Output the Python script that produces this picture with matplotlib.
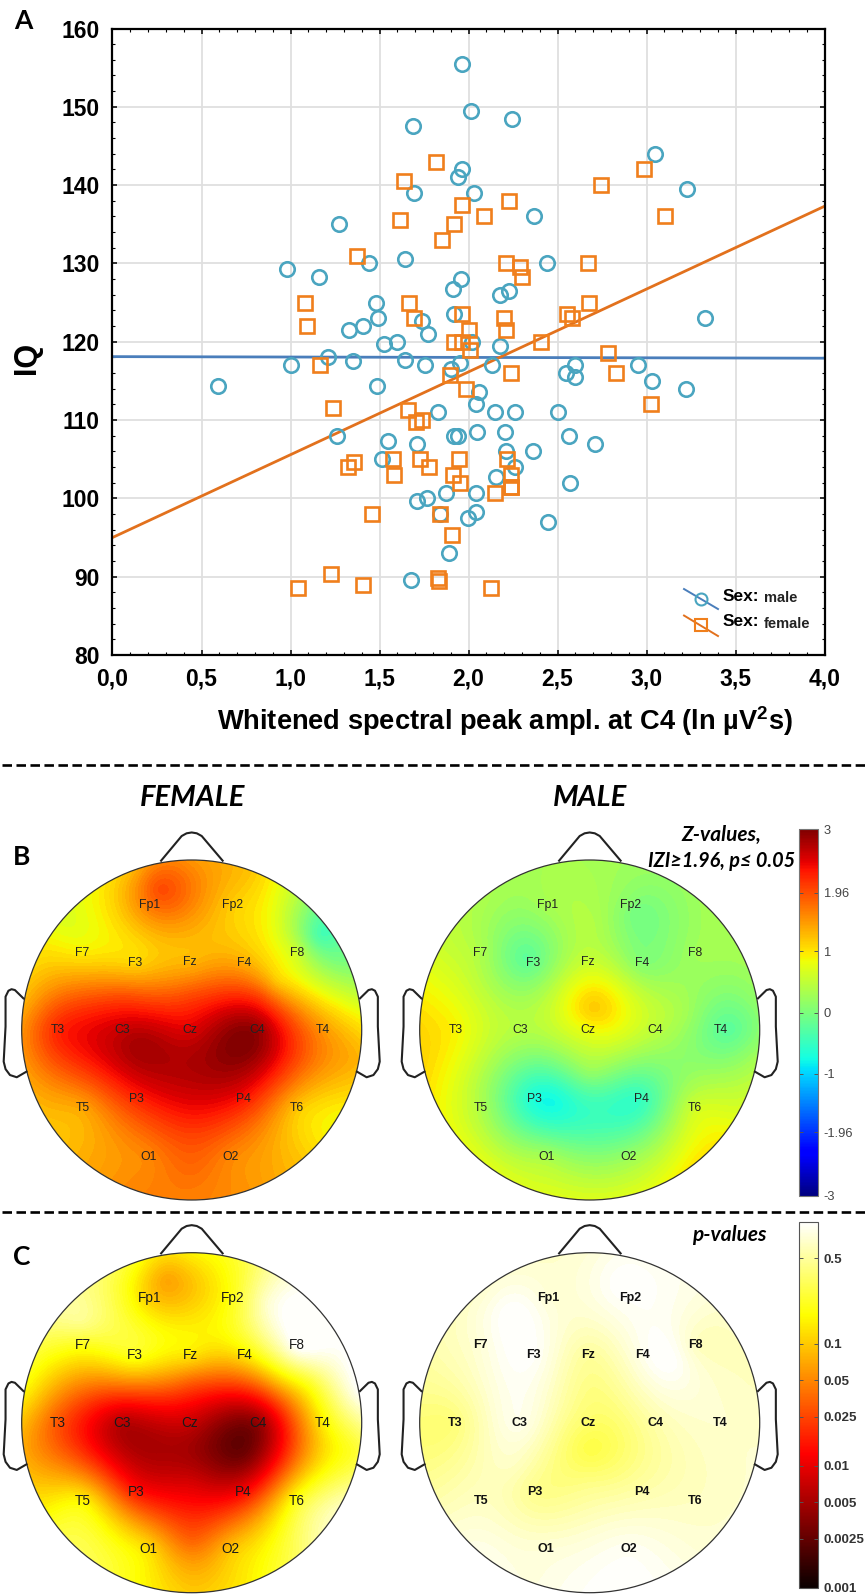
import numpy as np
import matplotlib
matplotlib.use("Agg")
import matplotlib.pyplot as plt
from matplotlib.cm import ScalarMappable
from matplotlib.colors import LogNorm, Normalize
from matplotlib.lines import Line2D
from matplotlib.patches import Circle

W, H = 865, 1595

# scatter, panel A
male_x = [1.964, 2.014, 2.243, 1.689, 3.049, 1.961, 1.94, 1.695, 2.033, 3.225, 1.273, 2.367, 1.44, 2.44,
          1.645, 0.98, 1.16, 1.958, 1.915, 2.175, 2.225, 1.478, 1.493, 1.918, 1.738, 3.33, 1.41, 1.326,
          1.77, 1.524, 1.60, 2.02, 2.178, 1.21, 1.0, 1.35, 1.642, 1.757, 1.955, 2.13, 1.90, 2.60, 2.55,
          2.6, 2.95, 3.03, 3.22, 0.592, 1.484, 2.057, 2.04, 1.83, 2.147, 2.26, 2.503, 1.26, 1.55, 1.713,
          1.92, 1.943, 2.05, 2.203, 2.565, 2.708, 2.364, 2.212, 1.515, 2.26, 2.157, 2.572, 1.713, 1.766,
          1.875, 2.04, 2.04, 1.995, 1.84, 2.448, 1.89, 1.676]
male_y = [155.5, 149.5, 148.5, 147.5, 144, 142, 141, 139, 139, 139.5, 135, 136, 130, 130,
          130.6, 129.3, 128.3, 128, 126.7, 126, 126.5, 125, 123, 123.5, 122.6, 123, 122, 121.5,
          121, 119.7, 120, 120, 119.5, 118, 117, 117.5, 117.7, 117, 117.3, 117, 116.5, 117, 116,
          115.5, 117, 115, 114, 114.3, 114.3, 113.6, 112, 111, 111, 111, 111, 108, 107.3, 107,
          108, 108, 108.5, 108.5, 108, 107, 106, 106, 105, 104, 102.7, 102, 99.7, 100,
          100.7, 100.7, 98.3, 97.5, 98, 97, 93, 89.6]
female_x = [1.816, 1.636, 2.984, 2.742, 2.225, 1.964, 2.088, 3.105, 1.614, 1.918, 1.85, 1.376, 2.212, 2.67,
            2.29, 2.3, 1.084, 1.664, 2.677, 1.961, 2.2, 2.556, 2.584, 1.094, 1.695, 2.212, 2.0, 1.918,
            1.964, 2.407, 2.01, 2.782, 1.168, 2.24, 2.826, 1.896, 1.986, 3.024, 1.24, 1.658, 1.74, 1.704,
            1.574, 1.726, 1.946, 2.218, 1.354, 1.323, 1.78, 1.583, 1.912, 2.24, 1.95, 2.24, 2.24, 2.147,
            1.46, 1.84, 1.909, 1.227, 1.828, 1.834, 1.407, 1.041, 2.129]
female_y = [143, 140.5, 142, 140, 138, 137.5, 136, 136, 135.5, 135, 133, 131, 130, 130,
            129.5, 128.3, 125, 125, 125, 123.5, 123, 123.5, 123, 122, 123, 121.5, 121.5, 120,
            120, 120, 119, 118.5, 117, 116, 116, 115.8, 114, 112, 111.5, 111.3, 110, 109.7,
            105, 105, 105, 105, 104.7, 104, 104, 103, 103, 103, 102, 101.5, 101.5, 100.7,
            98, 98, 95.3, 90.3, 89.8, 89.5, 89, 88.6, 88.6]
fit_x = [0, 4]
male_fit = [118.1, 117.9]
female_fit = [95.0, 137.3]
x_ticks = [0, 0.5, 1, 1.5, 2, 2.5, 3, 3.5, 4]
x_labels = ["0,0", "0,5", "1,0", "1,5", "2,0", "2,5", "3,0", "3,5", "4,0"]
y_ticks = [80, 90, 100, 110, 120, 130, 140, 150, 160]

# electrodes, head radius = 1
names = ["Fp1", "Fp2", "F7", "F3", "Fz", "F4", "F8", "T3", "C3", "Cz", "C4", "T4", "T5", "P3", "P4", "T6", "O1", "O2"]
elec_x = [-0.245, 0.241, -0.643, -0.333, -0.01, 0.31, 0.62, -0.79, -0.41, -0.01, 0.388, 0.77, -0.64, -0.325, 0.304, 0.62, -0.255, 0.23]
elec_y = [0.735, 0.735, 0.455, 0.396, 0.40, 0.396, 0.455, 0, 0, 0, 0, 0, -0.46, -0.406, -0.406, -0.46, -0.745, -0.745]
rim_deg = list(range(0, 360, 20))

# panel B, z values at the electrodes, on the rim, and at blobs between electrodes
fem_z = [1.7, 1.15, 0.95, 1.1, 1.3, 1.35, 0.55, 2.2, 2.6, 2.5, 2.85, 1.5, 1.4, 2.2, 2.3, 1.2, 1.6, 1.6]
fem_z_rim = [1.5, 1.2, 0.3, -0.2, 0.6, 1.3, 0.9, 1.2, 1.5, 1.65, 1.6, 1.35, 1.25, 1.5, 1.3, 0.95, 0.8, 1.3]
fem_z_extra = [(-0.19, 0.83, 1.95), (0.75, 0.55, -0.35), (0.85, 0.42, -0.05), (0.5, 0.28, 1.2), (0.85, 0.12, 1.0), (0.45, 0.65, 0.85),
               (-0.72, 0.6, 0.75), (0.3, -0.08, 3.0), (0.13, -0.18, 2.85), (-0.3, -0.09, 2.8), (0, -0.5, 2.3),
               (0, -0.8, 1.8), (0, 0.2, 2.0), (-0.4, 0.2, 1.95), (0.4, 0.2, 2.0)]
male_z = [0.3, 0.05, 0.35, -0.15, 0.55, 0.05, 0.25, 0.9, 0.4, 0.8, 0.45, -0.2, 0.35, -0.7, -0.5, 0.6, 0.3, 0.2]
male_z_rim = [0.3, 0.2, 0.25, 0.3, 0.15, 0.3, 0.7, 1.0, 0.75, 0.7, 0.7, 0.75, 0.85, 1.1, 0.95, 0.55, 0.35, 0.3]
male_z_extra = [(0.02, 0.13, 1.15), (0, -0.25, 0.15), (0, -0.5, -0.5), (-0.2, -0.42, -0.75), (0.2, -0.45, -0.55),
                (0.85, 0, -0.2), (-0.38, 0.42, -0.2), (0.25, 0.72, 0.0), (0.35, 0.5, 0.0), (0, 0.62, 0.4), (0.55, 0.1, 0.3)]

# panel C, p values
fem_p = [0.1, 0.2, 0.2, 0.2, 0.13, 0.13, 1.0, 0.03, 0.006, 0.007, 0.004, 0.14, 0.15, 0.015, 0.012, 0.2, 0.12, 0.09]
fem_p_rim = [0.15, 0.3, 0.95, 1, 0.9, 0.25, 0.6, 0.35, 0.15, 0.1, 0.18, 0.3, 0.15, 0.07, 0.15, 0.3, 0.45, 0.2]
fem_p_extra = [(-0.15, 0.85, 0.07), (0.31, -0.2, 0.003), (-0.3, -0.12, 0.005), (0, -0.35, 0.008), (0, -0.7, 0.035),
               (0.55, 0.5, 0.8), (0.45, 0.7, 0.7), (0.5, 0.25, 0.09), (0.7, 0.25, 0.25), (-0.65, 0.6, 0.45),
               (0, 0.25, 0.035), (-0.4, 0.22, 0.04), (0.4, 0.22, 0.035)]
male_p = [0.75, 0.95, 0.75, 0.95, 0.5, 0.85, 0.65, 0.4, 0.85, 0.35, 0.55, 0.7, 0.65, 0.45, 0.55, 0.65, 0.75, 0.9]
male_p_rim = [0.75, 0.9, 0.8, 0.65, 0.65, 0.7, 0.7, 0.75, 0.95, 0.95, 0.8, 0.85, 0.6, 0.4, 0.45, 0.6, 0.7, 0.7]
male_p_extra = [(-0.42, 0.5, 1), (-0.45, 0.65, 1), (0.42, 0.42, 1), (0.2, 0.8, 1), (0.5, 0.35, 0.95), (0, -0.15, 0.28),
                (0, 0.2, 0.42), (0, -0.35, 0.42), (-0.45, -0.25, 0.65)]

z_ticks = [-3, -1.96, -1, 0, 1, 1.96, 3]
z_tick_labels = ["-3", "-1.96", "-1", "0", "1", "1.96", "3"]
p_ticks = [0.001, 0.0025, 0.005, 0.01, 0.025, 0.05, 0.1, 0.5]
p_tick_labels = ["0.001", "0.0025", "0.005", "0.01", "0.025", "0.05", "0.1", "0.5"]

# head outline
nose_x = [-0.18, -0.059, -0.03, 0, 0.03, 0.059, 0.182]
nose_y = [0.996, 1.141, 1.157, 1.162, 1.157, 1.141, 0.996]
ear_x = [0.99, 1.04, 1.06, 1.078, 1.095, 1.095, 1.106, 1.095, 1.069, 1.029, 0.972]
ear_y = [0.186, 0.235, 0.24, 0.231, 0.196, 0.02, -0.186, -0.23, -0.265, -0.278, -0.245]

plt.rcParams["font.family"] = ["Liberation Sans", "DejaVu Sans"]
plt.rcParams["mathtext.fontset"] = "custom"
plt.rcParams["mathtext.bf"] = "Liberation Sans:bold"
fig = plt.figure(figsize=(W / 100, H / 100), dpi=100)


def px_axes(left, top, width, height):
    return fig.add_axes([left / W, 1 - (top + height) / H, width / W, height / H])


def px_text(x, y, s, **kw):
    kw.setdefault("ha", "center")
    kw.setdefault("va", "center")
    fig.text(x / W, 1 - y / H, s, **kw)


def rim_points(values, extra):
    ang = np.deg2rad(rim_deg)
    ex = [e[0] for e in extra]
    ey = [e[1] for e in extra]
    ev = [e[2] for e in extra]
    return np.r_[np.sin(ang), ex], np.r_[np.cos(ang), ey], np.r_[values, ev]


def thin_plate(px, py, v, gx, gy):
    # smooth surface through the read values, like the topographic software does
    n = len(px)
    d2 = (px[:, None] - px[None, :]) ** 2 + (py[:, None] - py[None, :]) ** 2
    kernel = 0.5 * d2 * np.log(d2 + 1e-9)
    P = np.c_[np.ones(n), px, py]
    A = np.block([[kernel + 1e-4 * np.eye(n), P], [P.T, np.zeros((3, 3))]])
    w = np.linalg.solve(A, np.r_[v, np.zeros(3)])
    d2g = (gx.ravel()[:, None] - px[None, :]) ** 2 + (gy.ravel()[:, None] - py[None, :]) ** 2
    out = (0.5 * d2g * np.log(d2g + 1e-9)) @ w[:n] + w[n] + w[n + 1] * gx.ravel() + w[n + 2] * gy.ravel()
    return out.reshape(gx.shape)


def draw_head(cx, cy, values, rim, extra, cmap, vmin, vmax, label_kw):
    r = 170
    ax = px_axes(cx - 1.25 * r, cy - 1.25 * r, 2.5 * r, 2.5 * r)
    ax.set_xlim(-1.25, 1.25)
    ax.set_ylim(-1.25, 1.25)
    ax.axis("off")
    rx, ry, rv = rim_points(rim, extra)
    px = np.r_[elec_x, rx]
    py = np.r_[elec_y, ry]
    pv = np.r_[values, rv]
    gx, gy = np.meshgrid(np.linspace(-1.02, 1.02, 260), np.linspace(-1.02, 1.02, 260))
    field = np.clip(thin_plate(px, py, pv, gx, gy), vmin, vmax)
    cs = ax.contourf(gx, gy, field, levels=np.linspace(vmin, vmax, 97), cmap=cmap, vmin=vmin, vmax=vmax)
    cs.set_clip_path(Circle((0, 0), 1, transform=ax.transData))
    ax.add_patch(Circle((0, 0), 1, fill=False, ec="#333333", lw=0.9))
    ax.plot(nose_x, nose_y, color="#222222", lw=1.5, solid_joinstyle="round")
    for sign in (-1, 1):
        ax.plot(sign * np.array(ear_x), ear_y, color="#222222", lw=1.5, solid_joinstyle="round")
    for name, ex, ey in zip(names, elec_x, elec_y):
        ax.text(ex, ey, name, ha="center", va="center", **label_kw)


def draw_bar(left, top, width, height, norm, cmap, ticks, labels, label_kw, edge):
    cax = px_axes(left, top, width, height)
    cb = fig.colorbar(ScalarMappable(norm=norm, cmap=cmap), cax=cax, ticks=ticks)
    cb.minorticks_off()
    cb.set_ticklabels(labels)
    cb.outline.set_edgecolor(edge)
    cb.outline.set_linewidth(0.8)
    cax.tick_params(axis="y", which="major", left=True, right=True, direction="in", length=3, width=0.7,
                    color="#555555", pad=4)
    for t in cax.get_yticklabels():
        t.update(label_kw)


# panel A
ax = px_axes(112.5, 28.5, 712, 626.5)
ax.set_xlim(0, 4)
ax.set_ylim(80, 160)
ax.set_xticks(x_ticks)
ax.set_xticklabels(x_labels)
ax.set_yticks(y_ticks)
ax.set_xticks(np.arange(0, 4.01, 0.1), minor=True)
ax.set_yticks(np.arange(80, 160.1, 2), minor=True)
ax.set_axisbelow(True)
ax.grid(True, which="major", color="#dfdfdf", lw=1.3)
ax.tick_params(which="major", direction="in", top=True, right=True, length=3.5, width=1.1, labelsize=16.5, pad=9)
ax.tick_params(which="minor", direction="in", top=True, right=True, length=2, width=0.8)
for t in ax.get_xticklabels() + ax.get_yticklabels():
    t.set_fontweight("bold")
for s in ax.spines.values():
    s.set_linewidth(1.6)

circle_col = "#4aa5c0"
square_col = "#f07f1c"
ax.plot(fit_x, male_fit, color="#4a7ebb", lw=2)
ax.plot(fit_x, female_fit, color="#e2711d", lw=2)
ax.plot(male_x, male_y, "o", mfc="none", mec=circle_col, mew=1.9, ms=10.4, zorder=3)
ax.plot(female_x, female_y, "s", mfc="none", mec=square_col, mew=1.9, ms=10, zorder=3)

# legend glyphs
for y0, y1, y2, col, lcol, mk in [(0.1053, 0.0734, 0.0894, circle_col, "#4a7ebb", "o"),
                                 (0.063, 0.0303, 0.0479, square_col, "#e2711d", "s")]:
    ax.plot([0.8027, 0.8504], [y0, y1], color=lcol, lw=1.4, transform=ax.transAxes)
    ax.plot([0.8265], [y2], mk, mfc="none", mec=col, mew=1.5, ms=8.6, transform=ax.transAxes)

px_text(23, 21, "A", fontsize=19, fontweight="bold", family="Lato")
px_text(27, 358, "IQ", fontsize=22, fontweight="bold", rotation=90)
px_text(505, 721, r"Whitened spectral peak ampl. at C4 (ln µV$\mathbf{^{2}}$s)", fontsize=19.6, fontweight="bold")
px_text(722.5, 596, "Sex:", fontsize=12.5, fontweight="bold", ha="left")
px_text(764, 597.5, "male", fontsize=10.5, fontweight="bold", ha="left", color="#222222")
px_text(722.5, 622, "Sex:", fontsize=12.5, fontweight="bold", ha="left")
px_text(764, 624, "female", fontsize=10.5, fontweight="bold", ha="left", color="#222222")

# separators
for y in (765, 1211.5):
    fig.add_artist(Line2D([0.002, 1], [1 - y / H, 1 - y / H], color="black", lw=1.9, dashes=(3.6, 1.7)))

# panels B and C
light = {"fontsize": 8.8, "color": "#222222"}
heavy = {"fontsize": 9.8, "color": "#1a1a1a"}
bold = {"fontsize": 9.0, "color": "#111111", "fontweight": "bold"}
draw_head(191.7, 1030, fem_z, fem_z_rim, fem_z_extra, "jet", -3, 3, light)
draw_head(589.7, 1030, male_z, male_z_rim, male_z_extra, "jet", -3, 3, light)
draw_head(191.7, 1422.7, np.log10(fem_p), np.log10(fem_p_rim),
          [(a, b, np.log10(c)) for a, b, c in fem_p_extra], "hot", -3, 0, heavy)
draw_head(589.7, 1422.7, np.log10(male_p), np.log10(male_p_rim),
          [(a, b, np.log10(c)) for a, b, c in male_p_extra], "hot", -3, 0, bold)

draw_bar(799, 829, 19, 367, Normalize(-3, 3), "jet", z_ticks, z_tick_labels, {"fontsize": 9.3, "color": "#444444"}, "#777777")
draw_bar(799, 1221.5, 19, 366, LogNorm(0.001, 1), "hot", p_ticks, p_tick_labels,
         {"fontsize": 9.6, "color": "#333333", "fontweight": "bold"}, "#555555")

title_kw = {"family": "Lato", "fontweight": "bold", "style": "italic"}
px_text(192.5, 798, "FEMALE", fontsize=21, **title_kw)
px_text(590, 798, "MALE", fontsize=21, **title_kw)
px_text(721, 835, "Z-values,", fontsize=15, **title_kw)
px_text(721.5, 861, "IZI≥1.96, p≤ 0.05", fontsize=14.3, **title_kw)
px_text(729.5, 1235, "p-values", fontsize=15, **title_kw)
px_text(22, 857, "B", fontsize=19, fontweight="bold", family="Lato")
px_text(22, 1257, "C", fontsize=19, fontweight="bold", family="Lato")

fig.savefig("out.png", dpi=100)
